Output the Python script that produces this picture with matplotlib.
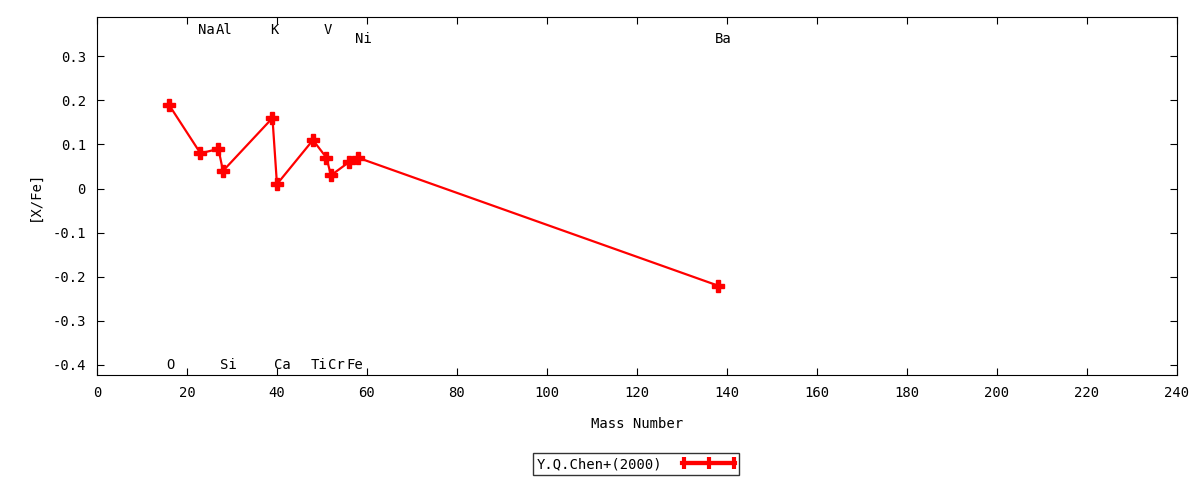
import numpy as np
import matplotlib.pyplot as plt
from matplotlib.legend_handler import HandlerErrorbar

elements = ["O", "Na", "Al", "Si", "K", "Ca", "Ti", "V", "Cr", "Fe", "Ni", "Ba"]
mass = [16, 23, 27, 28, 39, 40, 48, 51, 52, 56, 58, 138]
xfe = [0.19, 0.08, 0.09, 0.04, 0.16, 0.01, 0.11, 0.07, 0.03, 0.06, 0.07, -0.22]
label_y = [-0.40, 0.36, 0.36, -0.40, 0.36, -0.40, -0.40, 0.36, -0.40, -0.40, 0.34, 0.34]

plt.rcParams['font.family'] = ['DejaVu Sans Mono']
plt.rcParams['font.size'] = 10

fig = plt.figure(figsize=(12, 4.8), dpi=100)
ax = fig.add_axes([0.0808, 0.21875, 0.9, 0.7458])

ax.plot(mass, xfe, color="red", lw=1.6, marker="P", ms=8, zorder=3)
for el, m, ly in zip(elements, mass, label_y):
    ax.text(m - 0.6, ly, el, ha="left", va="center")

ax.set_xlim(0, 240)
ax.set_ylim(-0.4227, 0.389)
ax.set_xticks(np.arange(0, 241, 20))
ax.set_yticks([0.3, 0.2, 0.1, 0, -0.1, -0.2, -0.3, -0.4])
ax.set_yticklabels(["0.3", "0.2", "0.1", "0", "-0.1", "-0.2", "-0.3", "-0.4"])
ax.tick_params(direction="in", top=True, right=True, length=5, pad=8)
ax.set_xlabel("Mass Number", labelpad=12)
ax.set_ylabel("[X/Fe]", labelpad=8)

# legend proxy shaped like an error-bar sample
proxy = ax.errorbar([np.nan], [np.nan], xerr=[1], color="red", lw=3,
                    marker="|", ms=9, mew=3, capsize=4, capthick=3, elinewidth=3)
leg = fig.legend([proxy], ["Y.Q.Chen+(2000)"], loc="center", bbox_to_anchor=(0.53, 0.033),
                 frameon=True, fancybox=False, edgecolor="black", markerfirst=False,
                 handlelength=3.8, borderpad=0.3, handletextpad=1.4,
                 handler_map={type(proxy): HandlerErrorbar(xerr_size=1.8)})
leg.get_frame().set_linewidth(1)

fig.savefig("out.png")
